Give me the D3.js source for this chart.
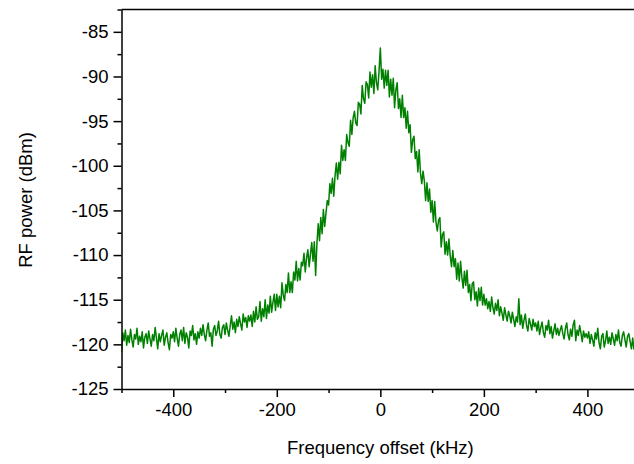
<!DOCTYPE html>
<html>
<head>
  <meta charset="utf-8">
  <script src="https://d3js.org/d3.v7.min.js"></script>
  <style type="text/css">
    body { margin: 0; background: #fff; }
    #chart text { font-family: "Liberation Sans", Arial, sans-serif; }
  </style>
</head>
<body>
<svg id="chart" width="634" height="464"></svg>
<script>

  // frequency grid (kHz)
  const freqs = [
    -500, -497.5, -495, -492.5, -490, -487.5, -485, -482.5, -480, -477.5, -475, -472.5, -470, -467.5, -465, -462.5, -460, -457.5, -455, -452.5,
    -450, -447.5, -445, -442.5, -440, -437.5, -435, -432.5, -430, -427.5, -425, -422.5, -420, -417.5, -415, -412.5, -410, -407.5, -405, -402.5,
    -400, -397.5, -395, -392.5, -390, -387.5, -385, -382.5, -380, -377.5, -375, -372.5, -370, -367.5, -365, -362.5, -360, -357.5, -355, -352.5,
    -350, -347.5, -345, -342.5, -340, -337.5, -335, -332.5, -330, -327.5, -325, -322.5, -320, -317.5, -315, -312.5, -310, -307.5, -305, -302.5,
    -300, -297.5, -295, -292.5, -290, -287.5, -285, -282.5, -280, -277.5, -275, -272.5, -270, -267.5, -265, -262.5, -260, -257.5, -255, -252.5,
    -250, -247.5, -245, -242.5, -240, -237.5, -235, -232.5, -230, -227.5, -225, -222.5, -220, -217.5, -215, -212.5, -210, -207.5, -205, -202.5,
    -200, -197.5, -195, -192.5, -190, -187.5, -185, -182.5, -180, -177.5, -175, -172.5, -170, -167.5, -165, -162.5, -160, -157.5, -155, -152.5,
    -150, -147.5, -145, -142.5, -140, -137.5, -135, -132.5, -130, -127.5, -125, -122.5, -120, -117.5, -115, -112.5, -110, -107.5, -105, -102.5,
    -100, -97.5, -95, -92.5, -90, -87.5, -85, -82.5, -80, -77.5, -75, -72.5, -70, -67.5, -65, -62.5, -60, -57.5, -55, -52.5,
    -50, -47.5, -45, -42.5, -40, -37.5, -35, -32.5, -30, -27.5, -25, -22.5, -20, -17.5, -15, -12.5, -10, -7.5, -5, -2.5,
    0, 2.5, 5, 7.5, 10, 12.5, 15, 17.5, 20, 22.5, 25, 27.5, 30, 32.5, 35, 37.5, 40, 42.5, 45, 47.5,
    50, 52.5, 55, 57.5, 60, 62.5, 65, 67.5, 70, 72.5, 75, 77.5, 80, 82.5, 85, 87.5, 90, 92.5, 95, 97.5,
    100, 102.5, 105, 107.5, 110, 112.5, 115, 117.5, 120, 122.5, 125, 127.5, 130, 132.5, 135, 137.5, 140, 142.5, 145, 147.5,
    150, 152.5, 155, 157.5, 160, 162.5, 165, 167.5, 170, 172.5, 175, 177.5, 180, 182.5, 185, 187.5, 190, 192.5, 195, 197.5,
    200, 202.5, 205, 207.5, 210, 212.5, 215, 217.5, 220, 222.5, 225, 227.5, 230, 232.5, 235, 237.5, 240, 242.5, 245, 247.5,
    250, 252.5, 255, 257.5, 260, 262.5, 265, 267.5, 270, 272.5, 275, 277.5, 280, 282.5, 285, 287.5, 290, 292.5, 295, 297.5,
    300, 302.5, 305, 307.5, 310, 312.5, 315, 317.5, 320, 322.5, 325, 327.5, 330, 332.5, 335, 337.5, 340, 342.5, 345, 347.5,
    350, 352.5, 355, 357.5, 360, 362.5, 365, 367.5, 370, 372.5, 375, 377.5, 380, 382.5, 385, 387.5, 390, 392.5, 395, 397.5,
    400, 402.5, 405, 407.5, 410, 412.5, 415, 417.5, 420, 422.5, 425, 427.5, 430, 432.5, 435, 437.5, 440, 442.5, 445, 447.5,
    450, 452.5, 455, 457.5, 460, 462.5, 465, 467.5, 470, 472.5, 475, 477.5, 480, 482.5, 485, 487.5, 490
  ];

  const power = [
    -120.9, -118.7, -119.6, -118.4, -120.1, -119.0, -119.8, -118.3, -119.5, -120.3, -118.9, -119.4, -118.2, -120.0, -119.1, -119.7, -118.6, -120.4, -119.2, -118.8,
    -119.9, -118.5, -119.4, -120.2, -118.9, -119.6, -118.1, -119.3, -120.5, -118.8, -119.7, -119.0, -118.4, -120.1, -119.2, -118.7, -119.8, -120.6, -118.9, -119.3,
    -118.6, -119.7, -118.2, -119.3, -120.2, -118.9, -118.4, -119.6, -118.1, -119.9, -118.7, -119.2, -120.4, -118.5, -119.0, -117.9, -119.5, -118.8, -120.0, -118.6,
    -119.3, -118.2, -119.0, -117.8, -118.9, -119.6, -118.4, -117.6, -119.1, -118.7, -120.2, -118.3, -117.9, -119.0, -118.5, -117.4, -118.9, -119.3, -118.1, -117.8,
    -118.9, -117.6, -118.4, -119.1, -117.9, -116.8, -118.3, -117.5, -118.7, -117.2, -118.0, -116.9, -117.7, -118.4, -116.6, -117.5, -117.0, -118.1, -116.8, -117.4,
    -116.7, -118.0, -116.3, -117.5, -115.8, -117.2, -116.9, -115.2, -117.4, -116.0, -116.9, -115.0, -117.1, -115.6, -116.5, -114.6, -116.4, -115.3, -114.4, -116.2,
    -114.4, -115.8, -114.6, -115.9, -113.1, -114.5, -115.1, -113.3, -114.2, -112.0, -114.2, -113.0, -114.2, -111.9, -112.8, -110.7, -112.9, -111.5, -112.8, -110.8,
    -111.2, -109.8, -111.9, -110.3, -109.4, -111.3, -109.9, -108.6, -110.7, -108.5, -112.3, -108.7, -106.5, -108.4, -105.8, -107.6, -104.9, -106.8, -105.3, -103.9,
    -104.4, -102.0, -103.1, -101.4, -103.4, -101.1, -99.7, -101.5, -99.6, -100.9, -97.7, -99.4, -98.2, -99.4, -96.5, -97.4, -97.8, -94.9, -96.5, -94.6,
    -93.9, -95.2, -95.5, -92.9, -93.1, -94.2, -91.0, -92.5, -93.0, -90.6, -90.9, -92.4, -89.5, -91.2, -89.8, -91.9, -88.8, -90.7, -91.5, -89.4,
    -86.8, -90.3, -89.2, -91.3, -89.3, -91.0, -89.3, -92.3, -90.3, -92.1, -90.2, -93.5, -91.5, -90.7, -93.6, -92.5, -94.6, -92.1, -94.6, -93.5,
    -95.8, -93.9, -96.3, -95.4, -98.5, -97.1, -96.7, -99.2, -98.4, -100.7, -98.2, -100.8, -102.0, -100.6, -101.7, -103.9, -101.9, -104.0, -102.6, -105.2,
    -103.9, -106.3, -104.0, -106.3, -107.3, -106.1, -105.8, -109.1, -107.7, -107.4, -109.9, -108.5, -110.0, -108.2, -110.1, -111.3, -109.5, -111.3, -110.4, -112.7,
    -110.9, -112.9, -110.7, -112.5, -113.7, -111.8, -113.4, -111.7, -114.2, -113.3, -115.1, -113.2, -113.0, -115.0, -114.1, -115.7, -113.7, -115.1, -113.6, -115.6,
    -114.4, -115.6, -114.9, -116.0, -115.2, -116.3, -114.7, -115.9, -116.6, -115.4, -116.2, -115.0, -116.8, -115.8, -116.5, -117.3, -115.9, -116.7, -117.4, -116.3,
    -116.8, -117.6, -116.4, -117.2, -118.0, -116.9, -117.5, -114.9, -117.8, -116.7, -118.2, -117.3, -116.6, -117.9, -118.5, -117.1, -117.7, -118.4, -117.2, -118.0,
    -117.6, -118.5, -117.4, -118.9, -118.1, -117.5, -118.7, -119.2, -117.9, -118.4, -117.3, -118.8, -118.0, -119.3, -118.5, -117.7, -118.9, -118.2, -119.0, -118.4,
    -117.9, -118.8, -119.4, -118.2, -117.6, -118.9, -119.5, -118.3, -119.1, -117.8, -117.3, -119.6, -118.4, -119.0, -117.9, -118.7, -119.7, -118.5, -119.2, -118.8,
    -119.3, -118.6, -119.9, -118.9, -119.5, -120.2, -118.7, -119.4, -118.2, -119.8, -120.5, -119.1, -118.8, -120.3, -119.6, -118.5, -119.9, -119.2, -120.0, -118.7,
    -119.4, -120.1, -118.9, -119.6, -118.4, -119.8, -120.2, -119.0, -118.6, -119.5, -120.3, -119.1, -118.8, -119.7, -120.5, -119.3, -120.6
  ];

  const xTicks = [-400, -200, 0, 200, 400];
  const xMinorTicks = [-500, -300, -100, 100, 300];
  const yTicks = [-125, -120, -115, -110, -105, -100, -95, -90, -85];
  const yMinorTicks = [-122.5, -117.5, -112.5, -107.5, -102.5, -97.5, -92.5, -87.5, -82.5];

  const data = freqs.map((f, i) => ({ freq: f, power: power[i] }));

  const chart = d3.select('#chart');
  const margin = { top: 9.5, right: 0, bottom: 75, left: 121.5 };
  const width = 634 - margin.left - margin.right;
  const height = 464 - margin.top - margin.bottom;
  const innerChart = chart.append('g')
          .attr('transform', `translate(${margin.left} ${margin.top})`);

  const x = d3.scaleLinear().domain([-500, 490]).range([0, width]);
  const y = d3.scaleLinear().domain([-125, -82.5]).range([height, 0]);

  innerChart.append('clipPath')
          .attr('id', 'plotClip')
          .append('rect')
          .attr('width', width)
          .attr('height', height);

  const line = d3.line()
          .x(d => x(d.freq))
          .y(d => y(d.power));

  innerChart.append('path')
          .datum(data)
          .attr('clip-path', 'url(#plotClip)')
          .attr('fill', 'none')
          .attr('stroke', '#008000')
          .attr('stroke-width', 1.5)
          .attr('stroke-linejoin', 'round')
          .attr('d', line);

  // minor ticks first, then major axes on top
  innerChart.append('g')
          .attr('transform', `translate(0 ${height})`)
          .call(d3.axisBottom(x).tickValues(xMinorTicks).tickSize(4).tickFormat(''))
          .call(g => g.select('.domain').remove());

  innerChart.append('g')
          .call(d3.axisLeft(y).tickValues(yMinorTicks).tickSize(4).tickFormat(''))
          .call(g => g.select('.domain').remove());

  const xAxis = innerChart.append('g')
          .attr('transform', `translate(0 ${height})`)
          .call(d3.axisBottom(x).tickValues(xTicks).tickSize(8).tickSizeOuter(0).tickPadding(6));

  const yAxis = innerChart.append('g')
          .call(d3.axisLeft(y).tickValues(yTicks).tickSize(8).tickSizeOuter(0).tickPadding(5));

  innerChart.selectAll('.tick line').attr('stroke', '#000').attr('stroke-width', 1.5);
  innerChart.selectAll('.domain').attr('stroke', '#000').attr('stroke-width', 1.5);
  innerChart.selectAll('.tick text')
          .attr('fill', '#000')
          .style('font-size', '18.5px');
  yAxis.selectAll('.tick text').text(d => d);
  xAxis.selectAll('.tick text').text(d => d);

  // top frame line
  innerChart.append('line')
          .attr('x1', 0).attr('x2', width)
          .attr('y1', 0).attr('y2', 0)
          .attr('stroke', '#000')
          .attr('stroke-width', 1.5);

  chart.append('text')
          .attr('x', margin.left + x(0))
          .attr('y', 454)
          .attr('text-anchor', 'middle')
          .style('font-size', '18.5px')
          .text('Frequency offset (kHz)');

  chart.append('text')
          .attr('transform', 'translate(32 200) rotate(-90)')
          .attr('text-anchor', 'middle')
          .style('font-size', '18.5px')
          .text('RF power (dBm)');

</script>
</body>
</html>
